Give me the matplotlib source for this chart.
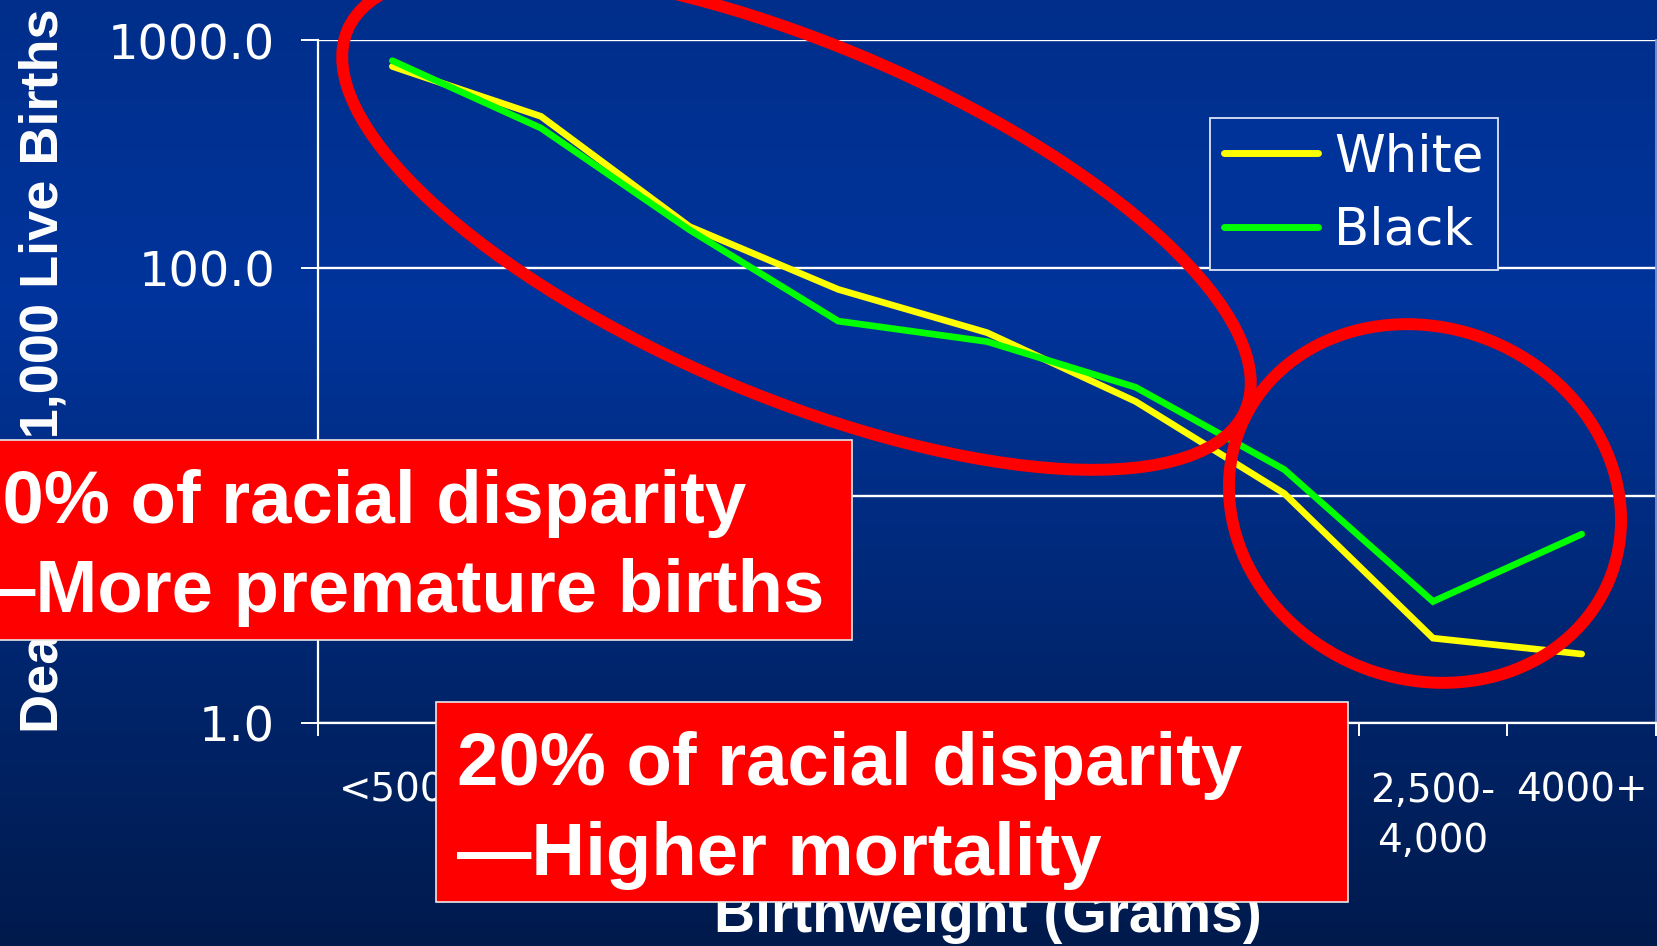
import numpy as np
import matplotlib
matplotlib.use("Agg")
import matplotlib.pyplot as plt
from matplotlib.patches import Ellipse, Rectangle
from matplotlib.ticker import NullLocator, FixedLocator

# ---------------- data ----------------
categories = ["<500", "500-\n749", "750-\n999", "1,000-\n1,249", "1,250-\n1,499",
              "1,500-\n1,999", "2,000-\n2,499", "2,500-\n4,000", "4000+"]
white_rates = [769, 464, 152, 80.5, 52, 25.9, 10.2, 2.36, 2.01]
black_rates = [815, 412, 147, 58.4, 47.5, 29.9, 13.0, 3.42, 6.76]
y_ticks = [1, 10, 100, 1000]
y_tick_labels = ["1.0", "10.0", "100.0", "1000.0"]
series_names = ["White", "Black"]
y_title = "Deaths per 1,000 Live Births"
x_title = "Birthweight (Grams)"
box1_lines = ["80% of racial disparity", "\u2014More premature births"]
box2_lines = ["20% of racial disparity", "\u2014Higher mortality"]

W, H = 1657, 946
DPI = 100
fig = plt.figure(figsize=(W / DPI, H / DPI), dpi=DPI)
T = fig.dpi_scale_trans

def px(x, y):
    """image pixel (top-left origin) -> inches"""
    return x / DPI, (H - y) / DPI

# ---------------- background gradient ----------------
bg = fig.add_axes([0, 0, 1, 1], zorder=-10)
stops_y = np.array([0, 300, 600, 946])
stops_c = np.array([[0, 46, 138], [0, 52, 156], [0, 40, 118], [0, 26, 76]]) / 255.0
yy = np.arange(H)
grad = np.stack([np.interp(yy, stops_y, stops_c[:, k]) for k in range(3)], axis=-1)
bg.imshow(grad[:, None, :], aspect="auto", extent=[0, 1, 0, 1], origin="upper")
bg.set_axis_off()

# ---------------- axes ----------------
left, right, top, bottom = 318, 1656, 40.5, 723
ax = fig.add_axes([left / W, (H - bottom) / H, (right - left) / W, (bottom - top) / H])
ax.set_facecolor("none")
x = np.arange(len(categories))
ax.plot(x, white_rates, color="#FFFF00", lw=4.8, solid_capstyle="round",
        solid_joinstyle="miter", label=series_names[0], zorder=3)
ax.plot(x, black_rates, color="#00FF00", lw=4.8, solid_capstyle="round",
        solid_joinstyle="miter", label=series_names[1], zorder=4)

ax.set_yscale("log")
ax.set_ylim(1, 1000)
ax.set_xlim(-0.5, len(categories) - 0.5)
ax.yaxis.set_major_locator(FixedLocator(y_ticks))
ax.set_yticklabels(y_tick_labels)
ax.yaxis.set_minor_locator(NullLocator())
ax.set_xticks(x)
ax.set_xticklabels(categories)
ax.set_xticks(np.arange(-0.5, len(categories), 1), minor=True)

ax.yaxis.grid(True, which="major", color="white", lw=1.7)
ax.set_axisbelow(True)
for s in ["left", "bottom"]:
    ax.spines[s].set_color("white")
    ax.spines[s].set_linewidth(1.6)
ax.spines["top"].set_visible(False)
ax.spines["right"].set_color("#8a9ccc")
ax.spines["right"].set_linewidth(1.2)

ax.tick_params(axis="y", which="major", length=12, width=1.4, color="white",
               direction="out", pad=19, labelsize=34.5, labelcolor="white")
ax.tick_params(axis="x", which="major", length=0, pad=35, labelsize=28,
               labelcolor="white")
ax.tick_params(axis="x", which="minor", length=9.5, width=1.4, color="white",
               direction="out")
for lbl in ax.get_yticklabels() + ax.get_xticklabels():
    lbl.set_fontfamily("DejaVu Sans")
for lbl in ax.get_xticklabels():
    lbl.set_linespacing(1.4)

leg = ax.legend(loc="upper left", bbox_to_anchor=(1210 / W, 1 - 118 / H),
                bbox_transform=fig.transFigure, borderaxespad=0,
                prop={"family": "DejaVu Sans", "size": 37},
                handlelength=1.83, handletextpad=0.3, labelspacing=0.45,
                borderpad=0.28, fancybox=False, framealpha=1,
                facecolor="#003399", edgecolor="#dde4f5")
leg.get_frame().set_linewidth(1.3)
for t in leg.get_texts():
    t.set_color("white")
for h in leg.get_lines():
    h.set_linewidth(5)
    h.set_solid_capstyle("round")

# ---------------- axis titles ----------------
fig.text(*px(44, 371), y_title, transform=T, rotation=90, ha="center", va="center",
         fontsize=39, fontweight="bold", family="Liberation Sans", color="white", zorder=2)
fig.text(*px(988, 932), x_title, transform=T, ha="center", va="baseline",
         fontsize=41, fontweight="bold", family="Liberation Sans", color="white", zorder=2)

# ---------------- red ellipses ----------------
for (cx, cy, ew, eh) in [(796.5, 220, 975, 353), (1425, 503.5, 399, 351)]:
    cxi, cyi = px(cx, cy)
    fig.add_artist(Ellipse((cxi, cyi), ew / DPI, eh / DPI, angle=-22.9, transform=T,
                           fill=False, edgecolor="#FF0000", lw=8.6, zorder=5))

# ---------------- red callout boxes ----------------
def callout(x0, y0, x1, y1, tx, baselines, lines):
    bx, by = px(x0, y1)
    fig.add_artist(Rectangle((bx, by), (x1 - x0) / DPI, (y1 - y0) / DPI, transform=T,
                             facecolor="#FF0000", edgecolor="#e8e8e8", lw=1.2, zorder=6))
    for b, s in zip(baselines, lines):
        fig.text(*px(tx, b), s, transform=T, ha="left", va="baseline", fontsize=53.6,
                 fontweight="bold", family="Liberation Sans", color="white", zorder=7)

callout(-60, 440, 852, 640, -39, [523, 612], box1_lines)
callout(436, 702, 1348, 902, 457, [785, 875], box2_lines)

fig.savefig("out.png", dpi=DPI)
